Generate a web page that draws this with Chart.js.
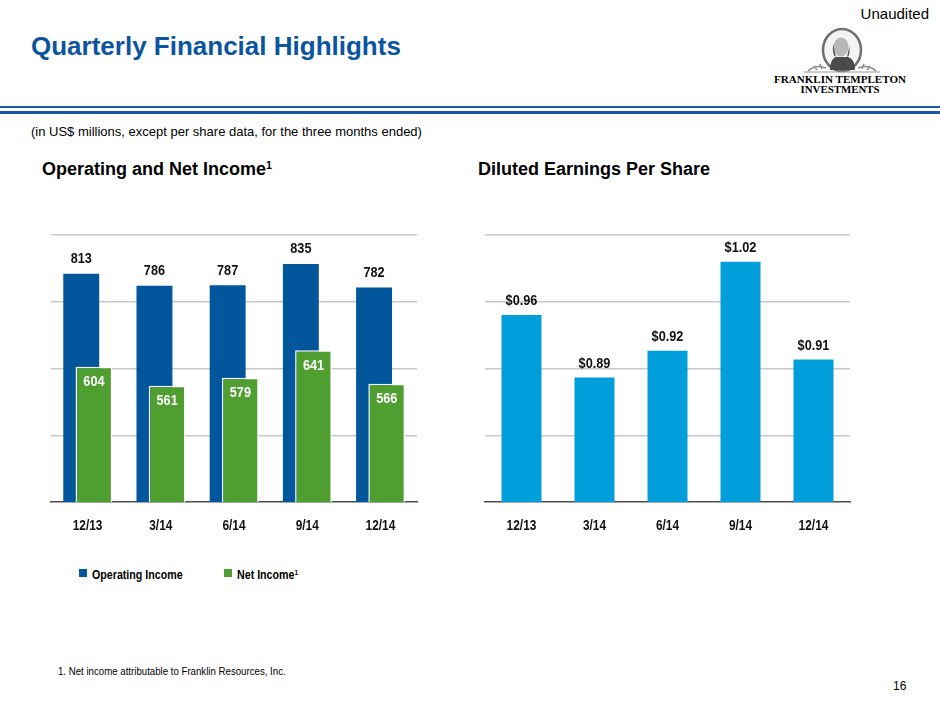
<!DOCTYPE html>
<html>
<head>
<meta charset="utf-8">
<script src="https://cdn.jsdelivr.net/npm/chart.js@4.4.1/dist/chart.umd.min.js"></script>
<style>
  body { margin: 0; width: 940px; height: 705px; position: relative; background: #fff; overflow: hidden;
         font-family: "Liberation Sans", Arial, sans-serif; color: #000; }
  .abs { position: absolute; line-height: 1; white-space: nowrap; }
  .narrow { transform: scaleX(0.82); transform-origin: 0 0; }
  .rule { position: absolute; left: 0; width: 940px; background: #1b57a3; }
  .sq { position: absolute; width: 8px; height: 8px; }
  sup { font-size: 60%; vertical-align: 0; position: relative; top: -0.55em; }
</style>
</head>
<body>

<div class="abs" style="right:11px; top:6px; font-size:15px;">Unaudited</div>
<div class="abs" style="left:31px; top:33px; font-size:26px; font-weight:bold; color:#0b55a0;">Quarterly Financial Highlights</div>

<!-- logo -->
<svg class="abs" style="left:770px; top:26px;" width="140" height="72" viewBox="0 0 140 72">
  <ellipse cx="72" cy="24" rx="19" ry="21" fill="#f4f4f4" stroke="#6e6e6e" stroke-width="2.5"/>
  <path d="M60 44 Q60 33 66 31 L78 31 Q85 33 85 44 Z" fill="#4a4a4a"/>
  <ellipse cx="71" cy="21" rx="7.5" ry="9.5" fill="#b8b8b8"/>
  <path d="M63 18 Q62 30 66 31 L64 22 Z M79 18 Q81 30 77 31 L79 22 Z" fill="#5a5a5a"/>
  <path d="M38 45 Q46 38 56 42 M44 40 L47 44 M50 38 L52 43 M106 45 Q98 38 88 42 M100 40 L97 44 M94 38 L92 43"
        stroke="#8a8a8a" stroke-width="1.6" fill="none"/>
  <line x1="34" y1="46" x2="110" y2="46" stroke="#999" stroke-width="1.2"/>
  <text x="70" y="57" text-anchor="middle" font-family="Liberation Serif, serif" font-weight="bold" font-size="11"
        textLength="132" lengthAdjust="spacingAndGlyphs">FRANKLIN TEMPLETON</text>
  <text x="70" y="67" text-anchor="middle" font-family="Liberation Serif, serif" font-weight="bold" font-size="11"
        textLength="79" lengthAdjust="spacingAndGlyphs">INVESTMENTS</text>
</svg>

<div class="rule" style="top:106px; height:2px;"></div>
<div class="rule" style="top:111px; height:3px;"></div>

<div class="abs" style="left:31px; top:125px; font-size:13px;">(in US$ millions, except per share data, for the three months ended)</div>

<div class="abs" style="left:42px; top:160px; font-size:18px; font-weight:bold;">Operating and Net Income<sup>1</sup></div>
<div class="abs" style="left:478px; top:160px; font-size:18px; font-weight:bold;">Diluted Earnings Per Share</div>

<canvas id="incomeChart" class="abs" style="left:30px; top:195px;" width="420" height="350"></canvas>
<canvas id="epsChart" class="abs" style="left:470px; top:195px;" width="420" height="350"></canvas>

<!-- legend -->
<div class="sq" style="left:79px; top:569px; background:#02569c;"></div>
<div class="abs narrow" style="left:92px; top:568px; font-size:13px; font-weight:bold;">Operating Income</div>
<div class="sq" style="left:224px; top:569px; background:#4f9f30;"></div>
<div class="abs narrow" style="left:237px; top:568px; font-size:13px; font-weight:bold;">Net Income<sup>1</sup></div>

<div class="abs narrow" style="left:58px; top:666px; font-size:11.5px; transform:scaleX(0.84);">1. Net income attributable to Franklin Resources, Inc.</div>
<div class="abs" style="left:893px; top:680px; font-size:12px;">16</div>

<script>
var quarters = ['12/13', '3/14', '6/14', '9/14', '12/14'];
var operatingIncome = [813, 786, 787, 835, 782];
var netIncome = [604, 561, 579, 641, 566];
var dilutedEps = [0.96, 0.89, 0.92, 1.02, 0.91];

// the slide uses a narrow bold face; no narrow font here so squeeze Liberation Sans
function narrowText(ctx, text, x, y, size) {
  ctx.save();
  ctx.font = 'bold ' + size + 'px "Liberation Sans", Arial, sans-serif';
  ctx.textAlign = 'center';
  ctx.textBaseline = 'middle';
  ctx.translate(x, y);
  ctx.scale(0.82, 1);
  ctx.fillText(text, 0, 0);
  ctx.restore();
}

// values over / inside the bars, and the category names under the axis
var slideText = {
  id: 'slideText',
  afterDraw: function(chart, args, opts) {
    var ctx = chart.ctx;
    opts.sets.forEach(function(set, i) {
      var meta = chart.getDatasetMeta(i);
      var values = chart.data.datasets[i].data;
      ctx.fillStyle = set.color;
      meta.data.forEach(function(bar, j) {
        narrowText(ctx, set.format(values[j]), bar.x, bar.y + set.offset, 15.5);
      });
    });
    var xs = chart.scales.x;
    ctx.fillStyle = '#111';
    xs.ticks.forEach(function(t, i) {
      narrowText(ctx, xs.getLabelForValue(t.value), xs.getPixelForTick(i), chart.chartArea.bottom + 24, 14.5);
    });
  }
};

// chart.js paints dataset 0 last; paint operating income first so net income sits on top
var netOnTop = {
  id: 'netOnTop',
  beforeDatasetDraw: function(chart, args) {
    if (args.index === 1) {
      var a = chart.chartArea;
      var ctx = chart.ctx;
      ctx.save();
      ctx.beginPath();
      ctx.rect(a.left, a.top - 2, a.right - a.left, a.bottom - a.top + 2);
      ctx.clip();
      chart.getDatasetMeta(0).controller.draw();
      ctx.restore();
    }
    if (args.index === 0) return false;
  }
};

function hideFirstGrid(c) {
  return c.index === 0 ? 'rgba(0,0,0,0)' : '#c9c9c9';
}

function xAxis() {
  return {
    grid: { display: false, drawTicks: false },
    border: { display: true, color: '#4d4d4d', width: 1.5 },
    ticks: { display: false }
  };
}

function yAxis(min, max) {
  return {
    min: min,
    max: max,
    ticks: { display: false, count: 5 },
    grid: { color: hideFirstGrid, lineWidth: 1.5, drawTicks: false },
    border: { display: false }
  };
}

new Chart(document.getElementById('incomeChart'), {
  type: 'bar',
  data: {
    labels: quarters,
    datasets: [{
      label: 'Operating Income',
      data: operatingIncome,
      backgroundColor: '#02569c',
      borderWidth: 0,
      categoryPercentage: 0.347,
      barPercentage: 2.83
    }, {
      label: 'Net Income',
      data: netIncome,
      backgroundColor: '#4f9f30',
      borderColor: '#ffffff',
      borderWidth: 1.5,
      categoryPercentage: 0.347,
      barPercentage: 2.9
    }]
  },
  options: {
    responsive: false,
    animation: false,
    layout: { padding: { left: 21, right: 33, top: 40, bottom: 43 } },
    scales: { x: xAxis(), y: yAxis(300, 900) },
    plugins: {
      legend: { display: false },
      tooltip: { enabled: false },
      slideText: {
        sets: [
          { color: '#111', offset: -15, format: function(v) { return String(v); } },
          { color: '#ffffff', offset: 15, format: function(v) { return String(v); } }
        ]
      }
    }
  },
  plugins: [netOnTop, slideText]
});

new Chart(document.getElementById('epsChart'), {
  type: 'bar',
  data: {
    labels: quarters,
    datasets: [{
      label: 'Diluted Earnings Per Share',
      data: dilutedEps,
      backgroundColor: '#009fdb',
      borderWidth: 0,
      categoryPercentage: 1,
      barPercentage: 0.548
    }]
  },
  options: {
    responsive: false,
    animation: false,
    layout: { padding: { left: 15, right: 40, top: 40, bottom: 43 } },
    scales: { x: xAxis(), y: yAxis(0.75, 1.05) },
    plugins: {
      legend: { display: false },
      tooltip: { enabled: false },
      slideText: {
        sets: [
          { color: '#111', offset: -14, format: function(v) { return '$' + v.toFixed(2); } }
        ]
      }
    }
  },
  plugins: [slideText]
});
</script>
</body>
</html>
